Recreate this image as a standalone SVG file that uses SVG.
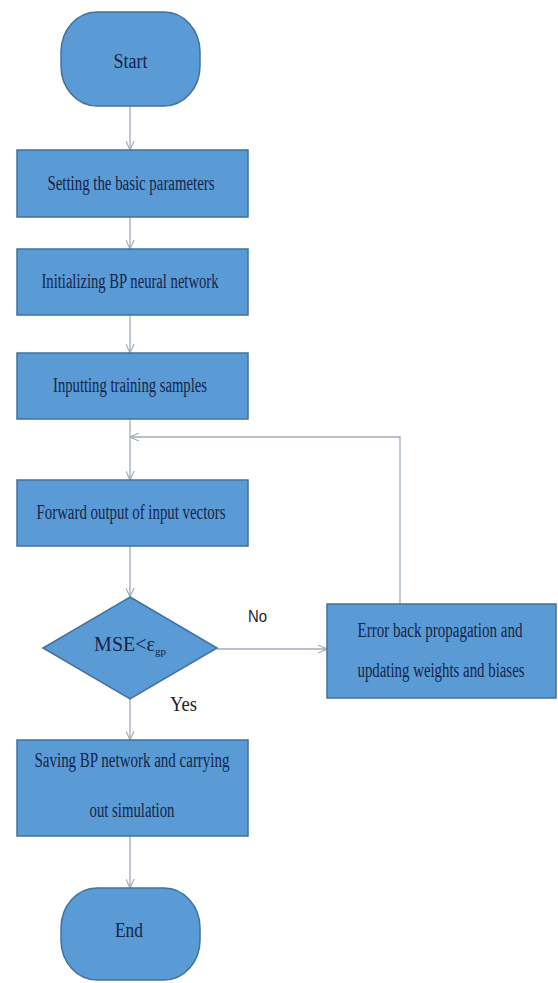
<svg xmlns="http://www.w3.org/2000/svg" width="558" height="983" viewBox="0 0 558 983">
<defs>
<marker id="arr" viewBox="0 0 10 10" refX="10" refY="5" markerWidth="9" markerHeight="9" markerUnits="userSpaceOnUse" orient="auto">
<polyline points="0,0.5 10,5 0,9.5" fill="none" stroke="#9fabba" stroke-width="1.3"/>
</marker>
</defs>
<style>
.shape{fill:#5b9bd5;stroke:#41719c;stroke-width:1.5}
.t{font-family:"Liberation Serif","Times New Roman",serif;font-size:20px;fill:#14254a;text-anchor:middle}
.lbl{font-family:"Liberation Sans",Arial,sans-serif;font-size:16px;fill:#222}
.lbls{font-family:"Liberation Serif","Times New Roman",serif;font-size:21px;fill:#222}
.c{fill:none;stroke:#9fabba;stroke-width:1.3}
</style>
<rect width="558" height="983" fill="#ffffff"/>
<g id="connectors">
<line class="c" x1="130" y1="106" x2="130" y2="150" marker-end="url(#arr)"/>
<line class="c" x1="130" y1="217" x2="130" y2="249" marker-end="url(#arr)"/>
<line class="c" x1="130" y1="315" x2="130" y2="353" marker-end="url(#arr)"/>
<line class="c" x1="130" y1="419" x2="130" y2="480" marker-end="url(#arr)"/>
<polyline class="c" points="400,604 400,437 130,437" marker-end="url(#arr)"/>
<line class="c" x1="130" y1="546" x2="130" y2="597" marker-end="url(#arr)"/>
<line class="c" x1="217" y1="649" x2="327" y2="649" marker-end="url(#arr)"/>
<line class="c" x1="130" y1="699" x2="130" y2="740" marker-end="url(#arr)"/>
<line class="c" x1="130" y1="836" x2="130" y2="888" marker-end="url(#arr)"/>
<text class="lbl" x="248" y="622" textLength="19" lengthAdjust="spacingAndGlyphs">No</text>
<text class="lbls" x="170" y="711" textLength="27" lengthAdjust="spacingAndGlyphs">Yes</text>
</g>
<g id="start">
<rect class="shape" x="61" y="12" width="139" height="94" rx="36" ry="40"/>
<text class="t" x="130.5" y="68" textLength="34" lengthAdjust="spacingAndGlyphs" font-size="25">Start</text>
</g>
<g id="setting">
<rect class="shape" x="17" y="150" width="231" height="67"/>
<text class="t" x="131" y="190" textLength="167" lengthAdjust="spacingAndGlyphs">Setting the basic parameters</text>
</g>
<g id="init">
<rect class="shape" x="17" y="249" width="231" height="66"/>
<text class="t" x="130" y="288" textLength="177" lengthAdjust="spacingAndGlyphs">Initializing  BP neural network</text>
</g>
<g id="input">
<rect class="shape" x="17" y="353" width="231" height="66"/>
<text class="t" x="130" y="392" textLength="154" lengthAdjust="spacingAndGlyphs">Inputting training samples</text>
</g>
<g id="forward">
<rect class="shape" x="17" y="480" width="231" height="66"/>
<text class="t" x="131" y="519" textLength="189" lengthAdjust="spacingAndGlyphs">Forward output of input vectors</text>
</g>
<g id="decision">
<polygon class="shape" points="130,597 217,648 130,699 43,648"/>
<text class="t" x="130" y="651" font-size="17">MSE&lt;ε<tspan font-size="11" dy="4">gp</tspan></text>
</g>
<g id="error">
<rect class="shape" x="327" y="604" width="229" height="94"/>
<text class="t" x="440" y="637" font-size="18" textLength="165" lengthAdjust="spacingAndGlyphs">Error back propagation and</text>
<text class="t" x="441" y="677" font-size="18" textLength="167" lengthAdjust="spacingAndGlyphs">updating weights and biases</text>
</g>
<g id="saving">
<rect class="shape" x="17" y="740" width="231" height="96"/>
<text class="t" x="132" y="767" textLength="195" lengthAdjust="spacingAndGlyphs">Saving BP network and carrying</text>
<text class="t" x="132" y="817" textLength="85" lengthAdjust="spacingAndGlyphs">out simulation</text>
</g>
<g id="end">
<rect class="shape" x="61" y="888" width="139" height="92" rx="36" ry="40"/>
<text class="t" x="129" y="937" textLength="28" lengthAdjust="spacingAndGlyphs" font-size="25">End</text>
</g>
</svg>
